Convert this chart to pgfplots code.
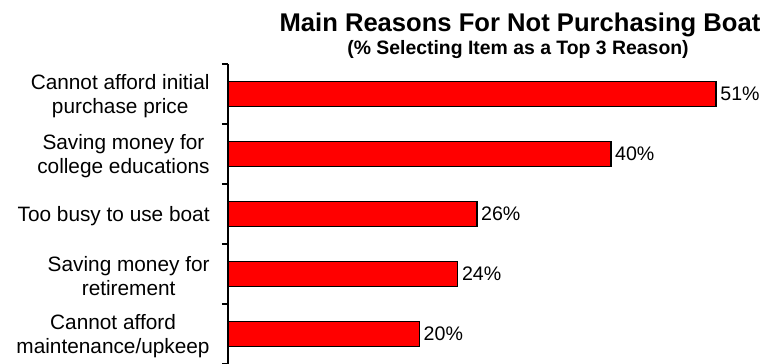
\documentclass[border=0pt]{standalone}
\usepackage{fontspec}
\setmainfont{Liberation Sans}
\usepackage{pgfplots}
\pgfplotsset{compat=1.18}
\begin{document}
\begin{tikzpicture}
\begin{axis}[
  at={(0,0)}, anchor=south west,
  scale only axis,
  width=272pt, height=150pt,
  xmin=0, xmax=56.85,
  ymin=0.5, ymax=5.5,
  y dir=reverse,
  hide x axis,
  axis y line*=left,
  y axis line style={-, line width=0.8pt},
  xbar, bar width=12.5pt,
  ytick={1,2,3,4,5},
  yticklabels={{Cannot afford initial\\purchase price},
               {Saving money for\\college educations},
               {Too busy to use boat},
               {Saving money for\\retirement},
               {Cannot afford\\maintenance/upkeep}},
  major tick length=0pt,
  minor ytick={0.5,1.5,2.5,3.5,4.5,5.5},
  minor tick length=3pt,
  tick align=outside,
  minor tick style={line width=0.8pt, black},
  yticklabel style={align=center, anchor=east, inner xsep=0pt, xshift=-9pt, yshift=-1pt,
    font={\fontsize{10.4}{12}\selectfont}},
  /pgf/number format/assume math mode=true,
  nodes near coords={\pgfmathprintnumber{\pgfplotspointmeta}\%},
  every node near coord/.style={anchor=west, inner xsep=1.8pt, black,
    font={\fontsize{9.8}{11}\selectfont}},
  clip=false,
]
\addplot[fill=red, draw=black, line width=0.75pt] coordinates {
  (51,1) (40,2) (26,3) (24,4) (20,5)
};
\end{axis}
\node[anchor=base, font={\fontsize{12.8}{14}\selectfont\bfseries}] at (146pt,166pt) {Main Reasons For Not Purchasing Boat};
\node[anchor=base, font={\fontsize{9.7}{11}\selectfont\bfseries}] at (145pt,154.5pt) {(\% Selecting Item as a Top 3 Reason)};
\pgfresetboundingbox
\useasboundingbox (-114pt,0) rectangle (272pt,182pt);
\end{tikzpicture}
\end{document}
